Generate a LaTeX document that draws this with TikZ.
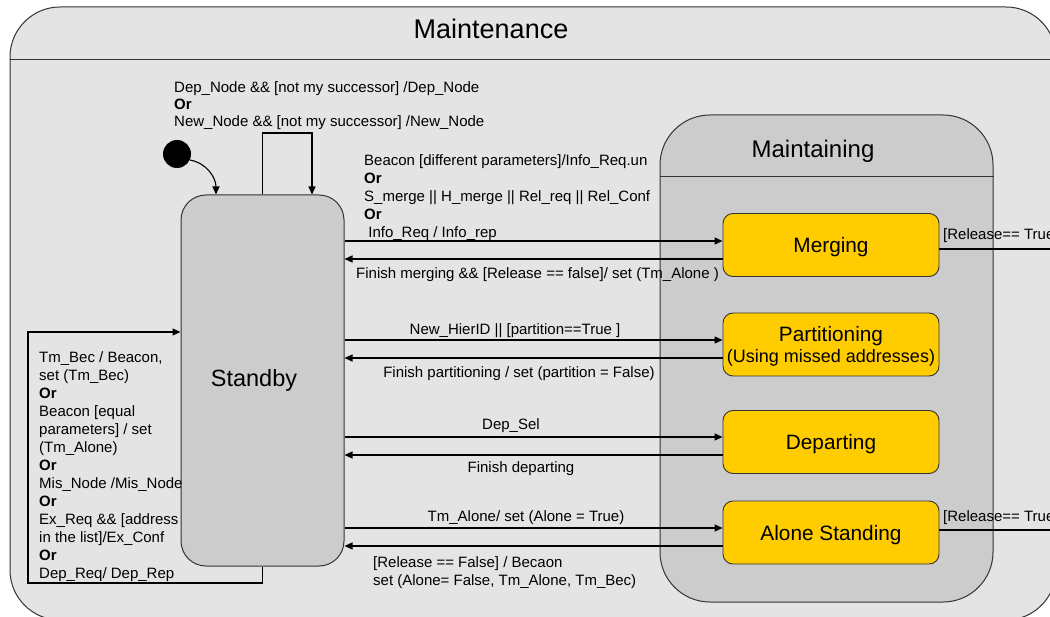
\documentclass[tikz,border=0pt]{standalone}
\usepackage{fontspec}
\setmainfont{Liberation Sans}
\usetikzlibrary{arrows.meta}

\definecolor{outerfill}{HTML}{E4E4E4}
\definecolor{innerfill}{HTML}{CCCCCC}
\definecolor{stateyellow}{HTML}{FFCC00}
\definecolor{edgegray}{HTML}{333333}

% left-aligned block of lines whose baseline is the first line
\newcommand{\lblock}[1]{\begin{tabular}[t]{@{}l@{}}#1\end{tabular}}

\begin{document}
\begin{tikzpicture}[x=1pt,y=-1pt,
  lbl/.style={font=\fontsize{15}{17.8}\selectfont, inner sep=0pt},
  container/.style={draw=edgegray, line width=1pt, inner sep=0pt},
  statebox/.style={draw=edgegray, line width=0.9pt, fill=stateyellow,
    rounded corners=10pt, minimum width=216pt, minimum height=63pt, inner sep=0pt},
  boxtext/.style={font=\fontsize{20.8}{22}\selectfont, inner sep=0pt},
  trans/.style={line width=1.1pt, -{Triangle[length=8pt,width=7pt]}},
  plain/.style={line width=1.1pt}
]
\useasboundingbox (0,0) rectangle (1050,617);
\clip (0,0) rectangle (1050,617);

% outer superstate
\node[container, fill=outerfill, rounded corners=50pt,
  minimum width=1046pt, minimum height=613pt] (maint) at (533,313.5) {};
\draw[container] (maint.west |- 0,60) -- (maint.east |- 0,60);
\node[inner sep=0pt, anchor=base, font=\fontsize{27}{30}\selectfont] (mainttitle) at (491,39) {Maintenance};

% Maintaining superstate
\node[container, fill=innerfill, rounded corners=50pt,
  minimum width=333pt, minimum height=487pt] (mting) at (826.5,358.5) {};
\draw[container] (mting.west |- 0,177) -- (mting.east |- 0,177);
\node[inner sep=0pt, anchor=base, font=\fontsize{24}{26}\selectfont] (mtingtitle) at (813,158) {Maintaining};

% Standby
\node[container, fill=innerfill, rounded corners=25pt,
  minimum width=163pt, minimum height=371pt] (standby) at (262.5,380.5) {};
\node[inner sep=0pt, anchor=base, font=\fontsize{23.5}{26}\selectfont] (sbtext) at (254,387) {Standby};

% substates
\node[statebox] (merge) at (831,245) {};
\node[boxtext, anchor=base] (mergetext) at (831,252.5) {Merging};
\node[statebox] (part) at (831,344.5) {};
\node[boxtext, anchor=base] (parttext) at (831,342) {Partitioning};
\node[inner sep=0pt, anchor=base, font=\fontsize{18}{20}\selectfont] (parttext2) at (831,363) {(Using missed addresses)};
\node[statebox] (dep) at (831,442) {};
\node[boxtext, anchor=base] (deptext) at (831,449.5) {Departing};
\node[statebox] (alone) at (831,532.5) {};
\node[boxtext, anchor=base] (alonetext) at (831,540) {Alone Standing};

% initial state
\node[circle, fill=black, minimum size=28pt, inner sep=0pt] (init) at (177,154) {};
\draw[trans] (init.-25) to[out=-10,in=90] (standby.north -| 216,0);

% self loop over the top
\coordinate (loopR) at (312,133);
\draw[trans] (standby.north) |- (loopR) -- (loopR |- standby.north);
\node[lbl, anchor=base west, font=\fontsize{15}{17}\selectfont] (toplbl) at (174,93)
  {\lblock{Dep\_Node \&\& [not my successor] /Dep\_Node\\
  \textbf{Or}\\
  New\_Node \&\& [not my successor] /New\_Node}};

% self loop round the left side
\coordinate (loopL) at (28,583);
\draw[trans] (standby.south) |- (loopL) |- (standby.west |- 0,332);
\node[lbl, anchor=base west, font=\fontsize{15}{18}\selectfont] (leftlbl) at (39,363)
  {\lblock{Tm\_Bec / Beacon,\\
  set (Tm\_Bec)\\
  \textbf{Or}\\
  Beacon [equal\\
  parameters] / set\\
  (Tm\_Alone)\\
  \textbf{Or}\\
  Mis\_Node /Mis\_Node\\
  \textbf{Or}\\
  Ex\_Req \&\& [address\\
  in the list]/Ex\_Conf\\
  \textbf{Or}\\
  Dep\_Req/ Dep\_Rep}};

% Standby <-> Merging
\draw[trans] (standby.east |- 0,241) -- (merge.west |- 0,241);
\draw[trans] (merge.west |- 0,259) -- (standby.east |- 0,259);
\node[lbl, anchor=base west] (mergein) at (364,166)
  {\lblock{Beacon [different parameters]/Info\_Req.un\\
  \textbf{Or}\\
  S\_merge || H\_merge || Rel\_req || Rel\_Conf\\
  \textbf{Or}\\
  \ Info\_Req / Info\_rep}};
\node[lbl, anchor=base west] (mergeout) at (356,279)
  {Finish merging \&\& [Release == false]/ set (Tm\_Alone )};

% Standby <-> Partitioning
\draw[trans] (standby.east |- 0,340) -- (part.west |- 0,340);
\draw[trans] (part.west |- 0,358) -- (standby.east |- 0,358);
\node[lbl, anchor=base] (partin) at (515,334.5) {New\_HierID || [partition==True ]};
\node[lbl, anchor=base] (partout) at (519,378) {Finish partitioning / set (partition = False)};

% Standby <-> Departing
\draw[trans] (standby.east |- 0,437) -- (dep.west |- 0,437);
\draw[trans] (dep.west |- 0,455) -- (standby.east |- 0,455);
\node[lbl, anchor=base] (depin) at (511,430) {Dep\_Sel};
\node[lbl, anchor=base] (depout) at (521,473) {Finish departing};

% Standby <-> Alone Standing
\draw[trans] (standby.east |- 0,528) -- (alone.west |- 0,528);
\draw[trans] (alone.west |- 0,546) -- (standby.east |- 0,546);
\node[lbl, anchor=base] (alonein) at (526,521.7) {Tm\_Alone/ set (Alone = True)};
\node[lbl, anchor=base west, font=\fontsize{15}{18}\selectfont] (aloneout) at (373,567.7)
  {\lblock{{[}Release == False] / Becaon\\
  set (Alone= False, Tm\_Alone, Tm\_Bec)}};

% transitions leaving on the right
\coordinate (exitA) at (1060,249);
\coordinate (exitB) at (1060,530);
\draw[plain] (merge.east |- exitA) -- (exitA);
\draw[plain] (alone.east |- exitB) -- (exitB);
\node[lbl, anchor=base west] (exitAlbl) at (943,240) {[Release== True};
\node[lbl, anchor=base west] (exitBlbl) at (943,521) {[Release== True};
\end{tikzpicture}
\end{document}
